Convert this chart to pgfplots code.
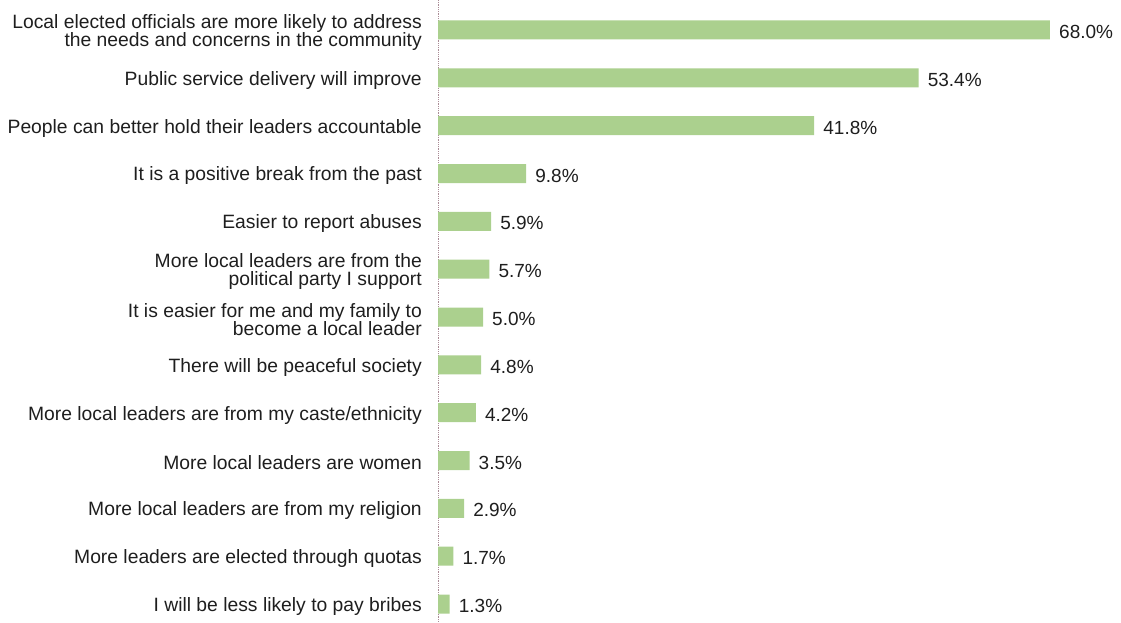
\documentclass[border=0pt]{standalone}
\usepackage{pgfplots}
\pgfplotsset{compat=1.18}
\usepackage{fontspec}
\setmainfont{Liberation Sans}
\definecolor{barg}{RGB}{171,208,142}
\definecolor{axc}{RGB}{170,140,150}
\definecolor{txt}{RGB}{30,30,30}
\begin{document}
\begin{tikzpicture}
\path[use as bounding box] (0,0) rectangle (1121pt,622pt);
\begin{axis}[
  at={(438pt,0pt)}, anchor=south west,
  scale only axis, width=682pt, height=622pt,
  xbar, bar width=19pt,
  xmin=0, xmax=75.78,
  ymin=-0.627, ymax=12.376,
  y dir=reverse,
  axis x line=none,
  axis y line=left,
  y axis line style={-, densely dotted, axc, line width=0.8pt},
  major tick length=0pt,
  ytick={0,...,12},
  yticklabels={{Local elected officials are more likely to address\\the needs and concerns in the community},
    {Public service delivery will improve},
    {People can better hold their leaders accountable},
    {It is a positive break from the past},
    {Easier to report abuses},
    {More local leaders are from the\\political party I support},
    {It is easier for me and my family to\\become a local leader},
    {There will be peaceful society},
    {More local leaders are from my caste/ethnicity},
    {More local leaders are women},
    {More local leaders are from my religion},
    {More leaders are elected through quotas},
    {I will be less likely to pay bribes}},
  yticklabel style={align=right, inner sep=0pt, xshift=-16pt, yshift=-2.5pt, font=\fontsize{19.3}{18.5}\selectfont, text=txt},
  nodes near coords={\pgfmathprintnumber[fixed,precision=1,zerofill,assume math mode=true]{\pgfplotspointmeta}\%},
  nodes near coords style={anchor=west, inner sep=0pt, xshift=9pt, yshift=-2pt, font=\fontsize{19}{19}\selectfont, text=txt},
  point meta=explicit,
  clip=false,
]
\addplot[fill=barg, draw=none] coordinates {
  (68.0,0) [68.0]
  (53.4,1) [53.4]
  (41.8,2) [41.8]
  (9.8,3) [9.8]
  (5.9,4) [5.9]
  (5.7,5) [5.7]
  (5.0,6) [5.0]
  (4.8,7) [4.8]
  (4.2,8) [4.2]
  (3.5,9) [3.5]
  (2.9,10) [2.9]
  (1.7,11) [1.7]
  (1.3,12) [1.3]
};
\end{axis}
\end{tikzpicture}
\end{document}
